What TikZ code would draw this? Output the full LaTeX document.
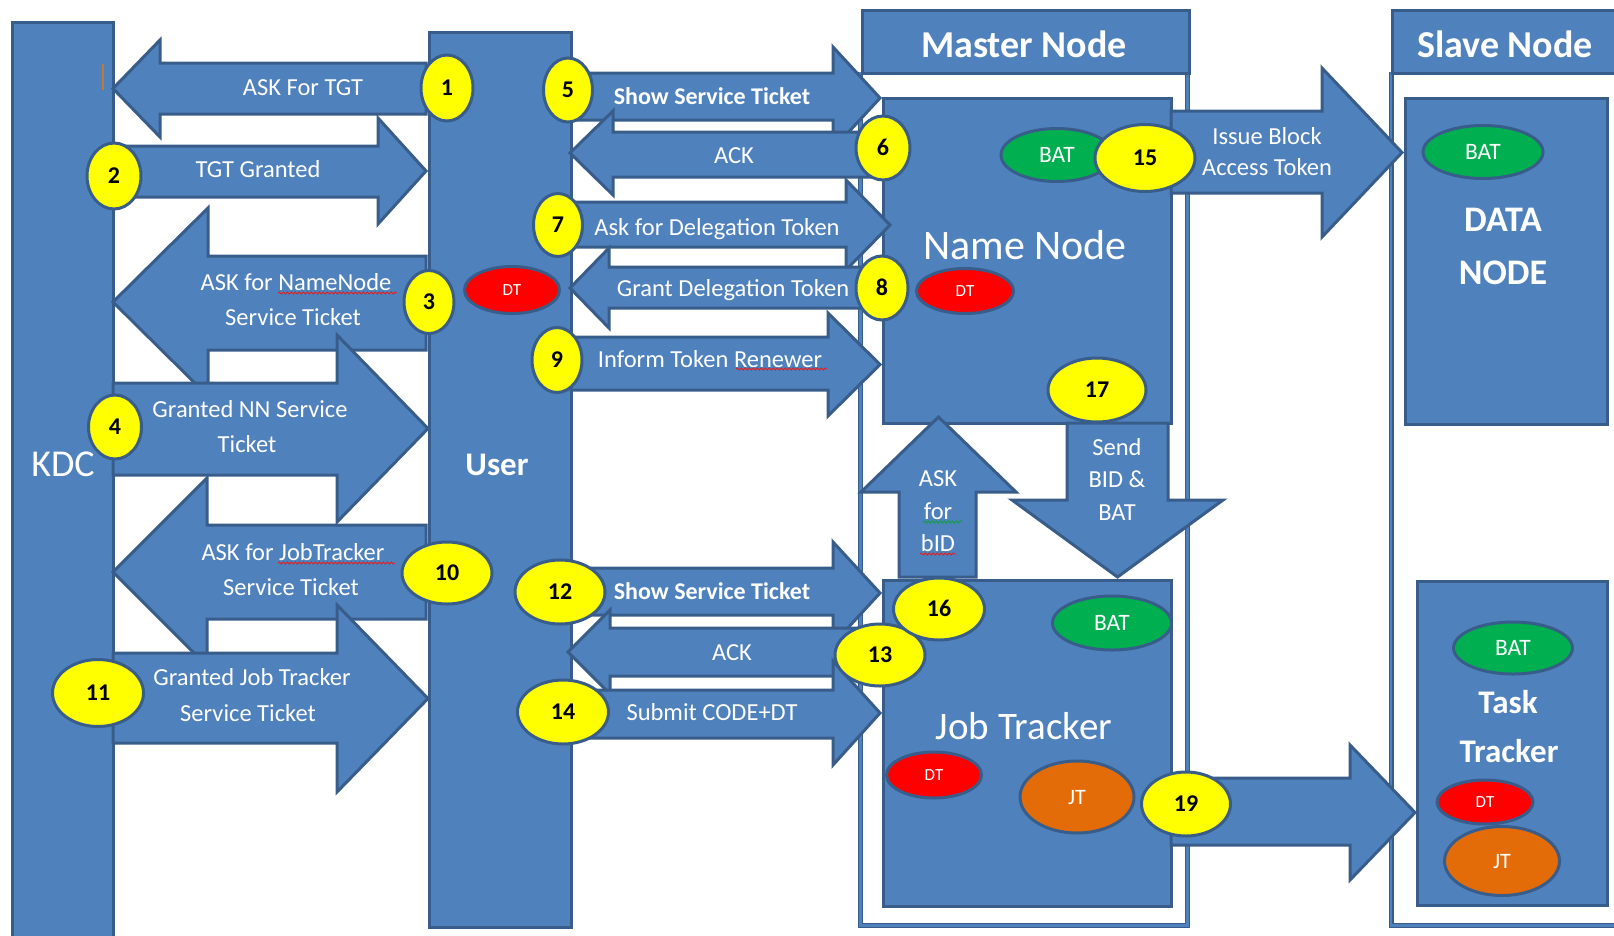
\documentclass[tikz,border=0pt]{standalone}
\usepackage{fontspec}
\setmainfont{Carlito}
\usetikzlibrary{shapes.geometric,decorations.pathmorphing}
\definecolor{boxblue}{HTML}{4F81BD}
\definecolor{edgeblue}{HTML}{385D8A}
\definecolor{tokyellow}{HTML}{FFFF00}
\definecolor{batgreen}{HTML}{00B050}
\definecolor{dtred}{HTML}{FF0000}
\definecolor{jtorange}{HTML}{E36C09}
\definecolor{spellred}{HTML}{E02020}
\definecolor{spellgreen}{HTML}{10A040}
\definecolor{cursorbrown}{HTML}{C07A35}
\tikzset{
  blk/.style={fill=boxblue, draw=edgeblue, line width=3pt, line join=miter},
  panel/.style={blk, rectangle, inner sep=0pt, anchor=north west},
  frameline/.style={draw=edgeblue, line width=1.2pt, double=boxblue, double distance=2.6pt},
  wtext/.style={text=white, inner sep=0pt, text depth=0pt},
  t24/.style={wtext, font=\fontsize{24.5}{28}\selectfont, text height=15.8pt},
  b24/.style={wtext, font=\bfseries\fontsize{24}{28}\selectfont, text height=15.5pt},
  num/.style={ellipse, fill=tokyellow, draw=edgeblue, line width=3pt, inner sep=0pt,
    text=black, font=\bfseries\fontsize{24}{28}\selectfont, text height=15.2pt, text depth=0pt},
  tok/.style={ellipse, draw=edgeblue, line width=3pt, inner sep=0pt, text=white, text depth=0pt},
  bat/.style={tok, fill=batgreen, font=\fontsize{23.5}{26}\selectfont, text height=15.1pt},
  dt/.style={tok, fill=dtred, font=\fontsize{17}{20}\selectfont, text height=11pt},
  jt/.style={tok, fill=jtorange, font=\fontsize{22}{26}\selectfont, text height=14.2pt},
  squig/.style={decorate, decoration={snake, amplitude=1.1pt, segment length=4pt}, line width=0.9pt},
}
\newcommand\panelbox[5]{\node[panel,minimum width={#4-#2},minimum height={#5-#3}] (#1) at (#2,#3) {};}
\newcommand\fatarrow[7]{\filldraw[blk] (#1,#2) -- (#4,#2) -- (#4,#5) -- (#7,{(#5+#6)/2}) -- (#4,#6) -- (#4,#3) -- (#1,#3) -- cycle;}
\begin{document}
\begin{tikzpicture}[x=1pt,y=-1pt]
\useasboundingbox (0,0) rectangle (1614,935);
\clip (0,0) rectangle (1614,935);
% frames
\draw[frameline] (860.5,72) -- (860.5,925.5) -- (1187.5,925.5) -- (1187.5,72);
\draw[frameline] (1391,72) -- (1391,925.5) -- (1640,925.5);
\panelbox{masterhead}{860.5}{8.5}{1187.5}{71.5}
\panelbox{slavehead}{1390.5}{8.5}{1650}{71.5}
% main boxes
\panelbox{kdc}{10.5}{20.5}{111.5}{960}
\panelbox{user}{427.5}{30.5}{569.5}{925.5}
\panelbox{namenode}{881.5}{96.5}{1169.5}{421.5}
\panelbox{datanode}{1403.5}{96.5}{1605.5}{422.5}
\panelbox{jobtracker}{881.5}{578.5}{1169.5}{904.5}
\panelbox{tasktracker}{1415.5}{579.5}{1605.5}{903.5}
% KDC <-> User arrows
\fatarrow{426}{63}{114}{160}{40}{137}{113}
\fatarrow{113}{146}{197}{378}{118}{224}{426}
\fatarrow{426}{256}{350}{208}{208}{396}{113}
\fatarrow{113}{383}{475}{337}{335}{522}{428}
\fatarrow{426}{525}{619}{207}{478}{666}{113}
\fatarrow{113}{653}{743}{337}{605}{792}{428}
% User <-> Name Node arrows
\fatarrow{571}{73}{120}{833}{47}{149}{880}
\fatarrow{880}{132}{177}{613}{111}{195}{570}
\fatarrow{571}{202}{247}{846}{180}{270}{890}
\fatarrow{880}{267}{308}{609}{248}{328}{570}
\fatarrow{571}{337}{390}{828}{313}{416}{880}
% User <-> Job Tracker arrows
\fatarrow{571}{568}{615}{833}{542}{644}{880}
\fatarrow{880}{628}{676}{610}{610}{694}{568}
\fatarrow{571}{690}{738}{833}{661}{765}{880}
% Master -> Slave arrows
\fatarrow{1171}{111}{193}{1322}{68}{237}{1402}
\fatarrow{1171}{778}{845}{1350}{745}{880}{1415}
% vertical arrows
\filldraw[blk] (899,577) -- (899,492) -- (861,492) -- (938.5,417) -- (1016,492) -- (976,492) -- (976,577) -- cycle;
\filldraw[blk] (1067,423) -- (1067,500) -- (1012,500) -- (1117.5,577) -- (1223,500) -- (1168,500) -- (1168,423) -- cycle;
% big labels
\node[wtext, font=\fontsize{38}{40}\selectfont, text height=24.5pt] (kdclabel) at (63,464) {KDC};
\node[wtext, font=\bfseries\fontsize{33}{36}\selectfont, text height=21.3pt] (userlabel) at (497,465) {User};
\node[wtext, font=\bfseries\fontsize{38}{40}\selectfont, text height=24.5pt] (masterlabel) at (1024,45) {Master Node};
\node[wtext, font=\bfseries\fontsize{38}{40}\selectfont, text height=24.5pt] (slavelabel) at (1505,45) {Slave Node};
\node[wtext, font=\fontsize{42}{44}\selectfont, text height=27pt] (nnlabel) at (1025,246) {Name Node};
\node[wtext, font=\fontsize{39}{41}\selectfont, text height=25.1pt] (jtlabel) at (1024,727) {Job Tracker};
\node[wtext, font=\bfseries\fontsize{36}{38}\selectfont, text height=23.2pt] (dnlabela) at (1503,220) {DATA};
\node[wtext, font=\bfseries\fontsize{36}{38}\selectfont, text height=23.2pt] (dnlabelb) at (1503,273) {NODE};
\node[wtext, font=\bfseries\fontsize{33}{36}\selectfont, text height=21.3pt] (ttlabela) at (1508,703) {Task};
\node[wtext, font=\bfseries\fontsize{33}{36}\selectfont, text height=21.3pt] (ttlabelb) at (1509,752) {Tracker};
% arrow labels
\node[t24] (l1) at (303,88) {ASK For TGT};
\node[t24] (l2) at (258,170) {TGT Granted};
\node[t24] (l3a) at (296,283) {ASK for NameNode};
\node[t24] (l3b) at (293,318) {Service Ticket};
\node[t24] (l4a) at (250,410) {Granted NN Service};
\node[t24] (l4b) at (247,445) {Ticket};
\node[t24] (l10a) at (293,553) {ASK for JobTracker};
\node[t24] (l10b) at (291,588) {Service Ticket};
\node[t24] (l11a) at (252,678) {Granted Job Tracker};
\node[t24] (l11b) at (248,714) {Service Ticket};
\node[b24] (l5) at (712,97) {Show Service Ticket};
\node[t24] (l6) at (734,156) {ACK};
\node[t24] (l7) at (717,228) {Ask for Delegation Token};
\node[t24] (l8) at (733,289) {Grant Delegation Token};
\node[t24] (l9) at (710,360) {Inform Token Renewer};
\node[b24] (l12) at (712,592) {Show Service Ticket};
\node[t24] (l13) at (732,653) {ACK};
\node[t24] (l14) at (712,713) {Submit CODE+DT};
\node[t24] (l15a) at (1267,137) {Issue Block};
\node[t24] (l15b) at (1267,168) {Access Token};
\node[t24] (l16a) at (938,479) {ASK};
\node[t24] (l16b) at (938,512) {for};
\node[t24] (l16c) at (938,544) {bID};
\node[t24] (l17a) at (1117,448) {Send};
\node[t24] (l17b) at (1117,480) {BID \&};
\node[t24] (l17c) at (1117,513) {BAT};
% tokens
\node[bat, minimum width=112pt, minimum height=53pt] (batnn) at (1057,155) {BAT};
\node[bat, minimum width=120pt, minimum height=53pt] (batdn) at (1483,152) {BAT};
\node[bat, minimum width=119pt, minimum height=54pt] (batjt) at (1112,623) {BAT};
\node[bat, minimum width=119pt, minimum height=52pt] (battt) at (1513,648) {BAT};
\node[dt, minimum width=95pt, minimum height=47pt] (dtuser) at (512,290) {DT};
\node[dt, minimum width=97pt, minimum height=45pt] (dtnn) at (965,291) {DT};
\node[dt, minimum width=95pt, minimum height=46pt] (dtjt) at (934,775) {DT};
\node[dt, minimum width=96pt, minimum height=44pt] (dttt) at (1485,802) {DT};
\node[jt, minimum width=114pt, minimum height=72pt] (jtjt) at (1077,797) {JT};
\node[jt, minimum width=115pt, minimum height=69pt] (jttt) at (1502,861) {JT};
% step numbers
\node[num, minimum width=52pt, minimum height=66pt] (n1) at (447,88) {1};
\node[num, minimum width=54pt, minimum height=66pt] (n2) at (114,176) {2};
\node[num, minimum width=50pt, minimum height=63pt] (n3) at (429,302) {3};
\node[num, minimum width=53pt, minimum height=64pt] (n4) at (115,427) {4};
\node[num, minimum width=49pt, minimum height=64pt] (n5) at (568,90) {5};
\node[num, minimum width=54pt, minimum height=64pt] (n6) at (883,148) {6};
\node[num, minimum width=49pt, minimum height=63pt] (n7) at (558,225) {7};
\node[num, minimum width=52pt, minimum height=64pt] (n8) at (882,288) {8};
\node[num, minimum width=50pt, minimum height=65pt] (n9) at (557,360) {9};
\node[num, minimum width=90pt, minimum height=62pt] (n10) at (447,573) {10};
\node[num, minimum width=91pt, minimum height=67pt] (n11) at (98,693) {11};
\node[num, minimum width=90pt, minimum height=64pt] (n12) at (560,592) {12};
\node[num, minimum width=90pt, minimum height=62pt] (n13) at (880,655) {13};
\node[num, minimum width=91pt, minimum height=64pt] (n14) at (563,712) {14};
\node[num, minimum width=100pt, minimum height=67pt] (n15) at (1145,158) {15};
\node[num, minimum width=91pt, minimum height=62pt] (n16) at (939,609) {16};
\node[num, minimum width=98pt, minimum height=64pt] (n17) at (1097,390) {17};
\node[num, minimum width=89pt, minimum height=64pt] (n19) at (1186,804) {19};
% spell-check underlines and cursor
\draw[squig, spellred] (278,293) -- (397,293);
\draw[squig, spellred] (278,563) -- (395,563);
\draw[squig, spellred] (736,369) -- (827,369);
\draw[squig, spellgreen] (923,522) -- (962,522);
\draw[squig, spellred] (920,554) -- (956,554);
\draw[cursorbrown, line width=2pt] (103,64) -- (103,90);
\end{tikzpicture}
\end{document}
